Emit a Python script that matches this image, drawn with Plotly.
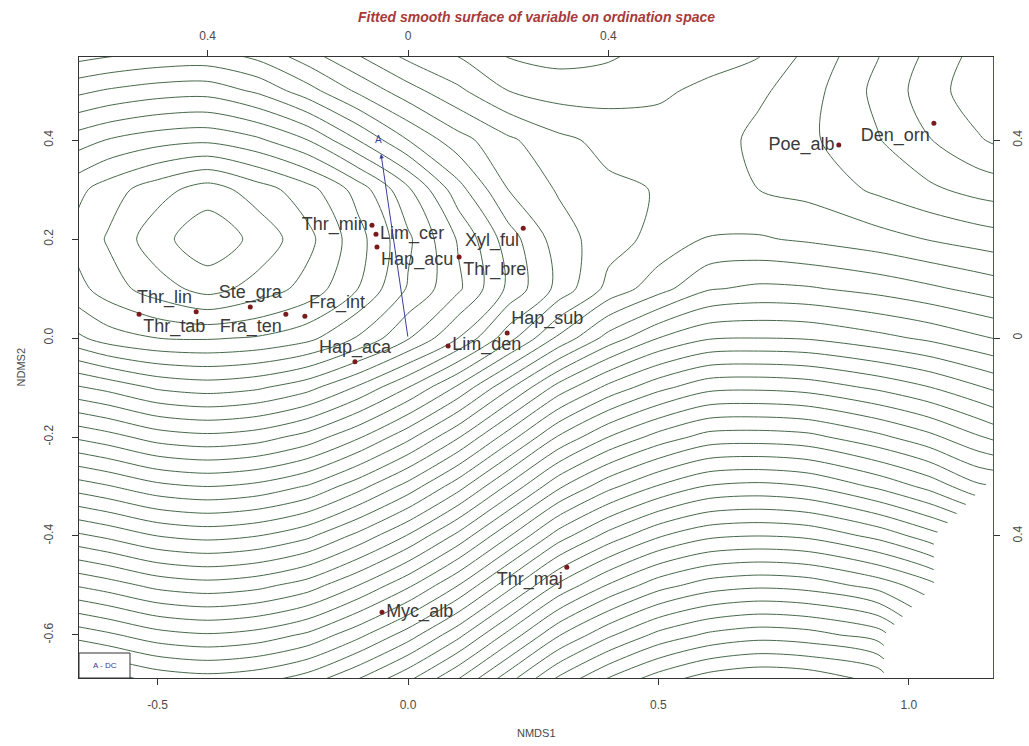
import plotly.graph_objects as go

nan = None

# Species scores on the two NMDS axes
species = ["Thr_tab", "Thr_lin", "Ste_gra", "Fra_ten", "Fra_int", "Thr_min", "Lim_cer",
           "Hap_acu", "Thr_bre", "Xyl_ful", "Hap_sub", "Lim_den", "Hap_aca", "Den_orn",
           "Poe_alb", "Thr_maj", "Myc_alb"]
nmds1 = [-0.537, -0.423, -0.315, -0.244, -0.206, -0.072, -0.064, -0.062, 0.102, 0.230,
         0.198, 0.080, -0.106, 1.050, 0.860, 0.317, -0.052]
nmds2 = [0.048, 0.053, 0.063, 0.048, 0.044, 0.228, 0.210, 0.184, 0.164, 0.222,
         0.010, -0.016, -0.048, 0.434, 0.390, -0.463, -0.554]
label_side = ["bottom right", "top left", "top center", "bottom left", "top right",
              "middle left", "middle right", "bottom right", "bottom right", "bottom left",
              "top right", "middle right", "top center", "bottom left", "middle left",
              "bottom left", "middle right"]

# Fitted environmental vector (arrow tip) and its name
vector_name = "A"
vector_x = -0.054
vector_y = 0.372

# Fitted smooth surface sampled on a grid (rows follow grid_y); None = outside the fit
grid_x = [-0.7, -0.6, -0.5, -0.4, -0.3, -0.2, -0.1, 0.0, 0.1, 0.2,
          0.3, 0.4, 0.5, 0.6, 0.7, 0.8, 0.94, 1.04, 1.14, 1.24]
grid_y = [-0.7, -0.6, -0.5, -0.4, -0.3, -0.2, -0.1, 0.0, 0.1, 0.2, 0.3, 0.4, 0.5, 0.6]
surface = [
    [32.6, 31.9, 31.1, 30.8, 31.1, 31.9, 33.4, 35.2, 37.4, 40.0, 42.6, 44.5, 45.9, 46.9, 47.3, 47.1, 46.2, nan, nan, nan],
    [28.9, 28.2, 27.4, 27.1, 27.4, 28.2, 29.7, 31.5, 33.7, 36.3, 38.9, 40.8, 42.3, 43.2, 43.6, 43.4, 42.5, nan, nan, nan],
    [25.2, 24.5, 23.7, 23.4, 23.7, 24.5, 26.0, 27.8, 30.0, 32.6, 35.2, 37.1, 38.6, 39.5, 39.8, 39.6, 38.6, 37.4, nan, nan],
    [21.5, 20.8, 20.0, 19.7, 20.0, 20.8, 22.3, 24.1, 26.3, 28.9, 31.5, 33.4, 34.9, 35.8, 36.0, 35.8, 34.7, 33.5, nan, nan],
    [17.8, 17.1, 16.3, 16.0, 16.3, 17.1, 18.6, 20.4, 22.6, 25.2, 27.8, 29.7, 31.1, 32.1, 32.3, 32.0, 30.8, 29.7, 28.2, nan],
    [14.1, 13.4, 12.55, 12.26, 12.55, 13.4, 14.85, 16.7, 18.9, 21.5, 24.1, 26.0, 27.4, 28.4, 28.5, 28.3, 27.25, 26.3, 25.1, 23.9],
    [10.4, 9.7, 8.85, 8.55, 8.85, 9.67, 11.15, 13.0, 15.2, 17.8, 20.4, 22.3, 23.7, 24.7, 24.8, 24.6, 23.8, 23.05, 22.1, 21.2],
    [6.7, 5.5, 5.0, 4.9, 5.1, 5.7, 7.1, 8.9, 11.0, 13.6, 16.2, 18.4, 20.0, 20.9, 21.0, 20.9, 20.3, 19.8, 19.15, 18.55],
    [4.9, 3.5, 2.45, 1.6, 2.4, 3.35, 5.0, 7.1, 8.8, 11.2, 13.3, 15.3, 16.6, 17.9, 18.2, 18.1, 17.65, 17.2, 16.7, 16.2],
    [4.4, 2.9, 1.35, 0.3, 1.3, 2.7, 4.6, 6.8, 9.1, 11.5, 13.5, 14.6, 15.3, 16.05, 16.1, 15.85, 15.4, 14.95, 14.55, 14.2],
    [4.8, 3.5, 2.4, 1.5, 2.5, 3.6, 5.4, 7.8, 10.6, 13.0, 14.1, 14.8, 15.05, 15.5, 15.0, 14.7, 13.8, 13.2, 12.65, 12.35],
    [6.8, 5.95, 5.4, 5.2, 5.8, 7.0, 9.0, 11.0, 12.6, 13.8, 14.75, 15.3, 15.6, 15.55, 14.7, 14.2, 13.05, 12.05, 11.1, 10.3],
    [9.5, 8.9, 8.5, 8.4, 9.2, 10.6, 12.2, 13.6, 14.8, 16.0, 16.45, 16.4, 16.15, 15.8, 15.2, 14.4, 12.7, 11.5, 10.35, 9.3],
    [12.4, 12.0, 11.7, 11.6, 12.15, 13.4, 14.7, 15.95, 16.55, 17.5, 17.7, 17.45, 16.8, 16.55, 16.4, 15.0, 13.15, 11.95, 10.8, 9.75],
]

x_range = [-0.657, 1.168]
y_range = [-0.687, 0.568]
x_ticks = [-0.5, 0.0, 0.5, 1.0]
x_ticktext = ["-0.5", "0.0", "0.5", "1.0"]
y_ticks = [-0.6, -0.4, -0.2, 0.0, 0.2, 0.4]
y_ticktext = ["-0.6", "-0.4", "-0.2", "0.0", "0.2", "0.4"]
vec_ticks = [-0.4, 0.0, 0.4]
vec_ticktext = ["0.4", "0", "0.4"]

line_green = "#48694b"
axis_grey = "#4a4a4a"
vector_blue = "#3a3f9a"
label_font = "Liberation Sans, Arial, sans-serif"

fig = go.Figure()

fig.add_trace(go.Contour(
    x=grid_x, y=grid_y, z=surface,
    contours=dict(start=1, end=48, size=1, coloring="lines", showlabels=False),
    colorscale=[[0, line_green], [1, line_green]],
    line=dict(width=1, smoothing=0.8),
    showscale=False, connectgaps=False, hoverinfo="skip",
))

fig.add_trace(go.Scatter(
    x=nmds1, y=nmds2, mode="markers+text", text=species, textposition=label_side,
    marker=dict(size=5, color="#7a1a1a"),
    textfont=dict(family=label_font, size=18, color="#3a3a3a"),
    hoverinfo="text", cliponaxis=False,
))

# invisible trace that carries the secondary (vector scale) axes
fig.add_trace(go.Scatter(x=x_range, y=y_range, xaxis="x2", yaxis="y2", mode="markers",
                         marker=dict(opacity=0), hoverinfo="skip", showlegend=False))

fig.add_annotation(x=vector_x, y=vector_y, ax=0, ay=0, xref="x", yref="y", axref="x", ayref="y",
                   text="", showarrow=True, arrowhead=2, arrowsize=0.9, arrowwidth=1,
                   arrowcolor=vector_blue)
fig.add_annotation(x=vector_x - 0.004, y=vector_y + 0.03, xref="x", yref="y", text=vector_name,
                   showarrow=False, font=dict(family=label_font, size=10, color=vector_blue))

# key box in the lower left corner
fig.add_shape(type="rect", xref="paper", yref="paper", x0=0, x1=51 / 914, y0=0, y1=25 / 621,
              fillcolor="white", line=dict(color="#333333", width=1), layer="above")
fig.add_annotation(xref="paper", yref="paper", x=25.5 / 914, y=12.5 / 621, text="A - DC",
                   xanchor="center", yanchor="middle",
                   showarrow=False, font=dict(family=label_font, size=8, color="#3a3a8a"))

fig.add_annotation(xref="paper", yref="paper", x=0.5, y=1 + 40 / 621,
                   xanchor="center", yanchor="middle",
                   text="<i><b>Fitted smooth surface of variable on ordination space</b></i>",
                   showarrow=False, font=dict(family=label_font, size=14, color="#a83a3a"))

# axis titles
fig.add_annotation(xref="paper", yref="paper", x=0.5, y=-55 / 621, text="NMDS1",
                   xanchor="center", yanchor="middle",
                   showarrow=False, font=dict(family=label_font, size=11, color=axis_grey))
fig.add_annotation(xref="paper", yref="paper", x=-59 / 914, y=0.5, text="NDMS2", textangle=-90,
                   xanchor="center", yanchor="middle",
                   showarrow=False, font=dict(family=label_font, size=11, color=axis_grey))

axis_common = dict(showgrid=False, zeroline=False, showline=True, linecolor="#333333",
                   linewidth=1, ticks="outside", ticklen=6, tickcolor="#333333", automargin=False,
                   tickfont=dict(family=label_font, size=12, color=axis_grey))

fig.update_layout(
    width=1029, height=746,
    margin=dict(l=79, r=36, t=57, b=68),
    paper_bgcolor="white", plot_bgcolor="white",
    showlegend=False,
    xaxis=dict(range=x_range, tickvals=x_ticks, ticktext=x_ticktext, ticklabelstandoff=10,
               **axis_common),
    yaxis=dict(range=y_range, tickvals=y_ticks, ticktext=y_ticktext, tickangle=-90,
               ticklabelstandoff=14, **axis_common),
    xaxis2=dict(range=x_range, overlaying="x", side="top", tickvals=vec_ticks,
                ticktext=vec_ticktext, ticklabelstandoff=5, **axis_common),
    yaxis2=dict(range=y_range, overlaying="y", side="right", tickvals=vec_ticks,
                ticktext=vec_ticktext, tickangle=-90, ticklabelstandoff=8,
                **{**axis_common, "linecolor": "#4a4aa0"}),
)

fig.write_html("out.html")
